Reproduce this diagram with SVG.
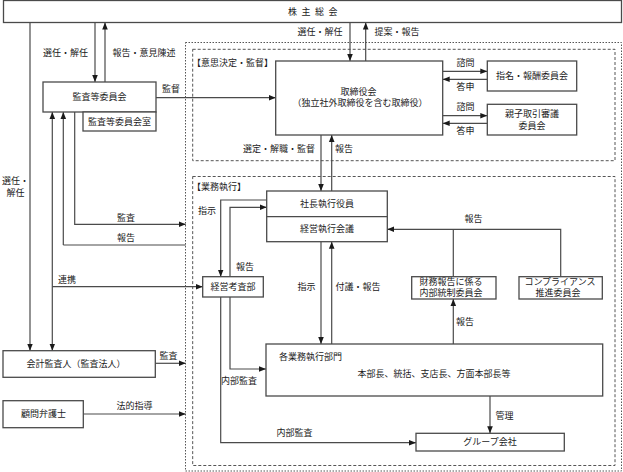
<svg xmlns="http://www.w3.org/2000/svg" width="623" height="472" viewBox="0 0 623 472">
<defs>
<style>
text{font-family:"Liberation Sans","Noto Sans CJK JP",sans-serif;font-size:9px;fill:#1a1a1a;dominant-baseline:central;text-anchor:middle}
.st{text-anchor:start}
.box{fill:#fff;stroke:#4a4a4a;stroke-width:1.3}
.ln{fill:none;stroke:#4a4a4a;stroke-width:1.2}
.arr{marker-end:url(#ah)}
.arr2{marker-start:url(#ahs);marker-end:url(#ah)}
.dot{fill:none;stroke:#555;stroke-width:1;stroke-dasharray:1.5 1.5}
.dash{fill:none;stroke:#555;stroke-width:1;stroke-dasharray:3 2}
</style>
<marker id="ah" viewBox="0 0 10 10" refX="10" refY="5" markerWidth="7" markerHeight="7" orient="auto" markerUnits="userSpaceOnUse"><path d="M0,1 L10,5 L0,9 z" fill="#1a1a1a"/></marker>
<marker id="ahs" viewBox="0 0 10 10" refX="0" refY="5" markerWidth="7" markerHeight="7" orient="auto" markerUnits="userSpaceOnUse"><path d="M10,1 L0,5 L10,9 z" fill="#1a1a1a"/></marker>
</defs>
<rect width="623" height="472" fill="#fff"/>

<g id="frames">
<rect class="dot" x="185.5" y="42.5" width="436" height="428.5"/>
<rect class="dash" x="192.7" y="49.3" width="422.3" height="111.4"/>
<rect class="dash" x="192.7" y="176.5" width="422.3" height="289"/>
<text class="st" x="192" y="63">【意思決定・監督】</text>
<text class="st" x="192" y="186.7">【業務執行】</text>
</g>

<g id="connectors">
<line class="ln arr" x1="30" y1="22.5" x2="30" y2="350.7"/>
<line class="ln arr" x1="95" y1="22.5" x2="95" y2="82"/>
<line class="ln arr" x1="105" y1="82" x2="105" y2="22.5"/>
<line class="ln arr" x1="156" y1="97.7" x2="275.7" y2="97.7"/>
<line class="ln arr" x1="350" y1="22.5" x2="350" y2="61"/>
<line class="ln arr" x1="365.7" y1="61" x2="365.7" y2="22.5"/>
<line class="ln arr" x1="442.7" y1="71.3" x2="487.3" y2="71.3"/>
<line class="ln arr" x1="487.3" y1="79.3" x2="442.7" y2="79.3"/>
<line class="ln arr" x1="442.7" y1="115.7" x2="487.3" y2="115.7"/>
<line class="ln arr" x1="487.3" y1="123.3" x2="442.7" y2="123.3"/>
<line class="ln arr" x1="321" y1="135" x2="321" y2="191"/>
<line class="ln arr" x1="331.7" y1="191" x2="331.7" y2="135"/>
<line class="ln arr2" x1="52.3" y1="112" x2="52.3" y2="350.7"/>
<line class="ln arr" x1="52.3" y1="286.7" x2="202.7" y2="286.7"/>
<path class="ln arr" d="M63.3,245 V112"/>
<path class="ln" d="M185.7,245 H63.3"/>
<path class="ln arr" d="M74.7,112 V224.3 H185.7"/>
<path class="ln arr" d="M266.7,200 H220.7 V276.7"/>
<path class="ln arr" d="M230,276.7 V207.3 H266.7"/>
<line class="ln arr" x1="321" y1="241.7" x2="321" y2="344"/>
<line class="ln arr" x1="331.7" y1="344" x2="331.7" y2="241.7"/>
<path class="ln arr" d="M560.7,276.7 V229.3 H387.3"/>
<path class="ln" d="M453.3,276.7 V229.3"/>
<line class="ln arr" x1="453.3" y1="344" x2="453.3" y2="299"/>
<path class="ln arr" d="M230,297 V369 H266"/>
<path class="ln arr" d="M220.7,297 V442.7 H416"/>
<line class="ln arr" x1="490" y1="396" x2="490" y2="433.3"/>
<line class="ln arr" x1="155.3" y1="363.3" x2="185.7" y2="363.3"/>
<line class="ln arr" x1="83.3" y1="414" x2="185.7" y2="414"/>
</g>

<g id="labels">
<text x="65.5" y="53">選任・解任</text>
<text x="144" y="53">報告・意見陳述</text>
<text x="171" y="89">監督</text>
<text x="320" y="32">選任・解任</text>
<text x="397" y="32">提案・報告</text>
<text x="465.5" y="63.3">諮問</text>
<text x="465.5" y="87.3">答申</text>
<text x="465.5" y="107.3">諮問</text>
<text x="465.5" y="130.7">答申</text>
<text x="279" y="148.5">選定・解職・監督</text>
<text x="344" y="148.5">報告</text>
<text class="st" x="2" y="181">選任・</text>
<text class="st" x="6.5" y="193">解任</text>
<text x="126" y="217.7">監査</text>
<text x="126" y="237.7">報告</text>
<text x="67" y="280">連携</text>
<text x="207" y="211">指示</text>
<text x="245" y="267.3">報告</text>
<text x="306.5" y="287">指示</text>
<text x="358" y="287">付議・報告</text>
<text x="473.5" y="219">報告</text>
<text x="465" y="321.7">報告</text>
<text x="239" y="380.7">内部監査</text>
<text x="294.5" y="433.3">内部監査</text>
<text x="504.5" y="415.7">管理</text>
<text x="168.5" y="356">監査</text>
<text x="134.5" y="405.7">法的指導</text>
</g>

<g id="shareholders">
<rect class="box" x="3.5" y="0.5" width="618" height="22"/>
<text class="st" x="288" y="11.5" letter-spacing="4.5">株主総会</text>
</g>
<g id="audit-committee">
<rect class="box" x="43" y="82" width="113" height="30"/>
<text x="99.5" y="97">監査等委員会</text>
</g>
<g id="audit-committee-office">
<rect class="box" x="83" y="112" width="73" height="19"/>
<text x="119.5" y="121.5">監査等委員会室</text>
</g>
<g id="board">
<rect class="box" x="275.7" y="61" width="167" height="74"/>
<text x="358.5" y="91.5">取締役会</text>
<text x="360" y="103">（独立社外取締役を含む取締役）</text>
</g>
<g id="nomination-committee">
<rect class="box" x="487.3" y="61" width="89.4" height="30"/>
<text x="532" y="76">指名・報酬委員会</text>
</g>
<g id="parent-sub-committee">
<rect class="box" x="487.3" y="104.3" width="89.4" height="30.7"/>
<text x="532" y="114.3">親子取引審議</text>
<text x="532" y="126">委員会</text>
</g>
<g id="president">
<rect class="box" x="266.7" y="191" width="120.6" height="50.7"/>
<line class="ln" x1="266.7" y1="216.7" x2="387.3" y2="216.7"/>
<text x="327" y="204">社長執行役員</text>
<text x="327" y="229">経営執行会議</text>
</g>
<g id="internal-audit-dept">
<rect class="box" x="202.7" y="276.7" width="60.6" height="20.3"/>
<text x="233" y="287">経営考査部</text>
</g>
<g id="icfr-committee">
<rect class="box" x="411.7" y="276.7" width="84.3" height="22.3"/>
<text x="451" y="282">財務報告に係る</text>
<text x="451" y="293.3">内部統制委員会</text>
</g>
<g id="compliance-committee">
<rect class="box" x="519" y="276.7" width="83.3" height="22.3"/>
<text x="560" y="282">コンプライアンス</text>
<text x="558" y="293.3">推進委員会</text>
</g>
<g id="business-divisions">
<rect class="box" x="266" y="344" width="336.7" height="52"/>
<text class="st" x="279" y="357.3">各業務執行部門</text>
<text x="434" y="374.3">本部長、統括、支店長、方面本部長等</text>
</g>
<g id="group-companies">
<rect class="box" x="416" y="433.3" width="148.3" height="17.7"/>
<text x="490" y="442.2">グループ会社</text>
</g>
<g id="accounting-auditor">
<rect class="box" x="3" y="350.7" width="152.3" height="26.6"/>
<text x="76" y="364">会計監査人（監査法人）</text>
</g>
<g id="legal-advisor">
<rect class="box" x="3" y="400.7" width="80.3" height="27"/>
<text x="43.5" y="414">顧問弁護士</text>
</g>
</svg>
